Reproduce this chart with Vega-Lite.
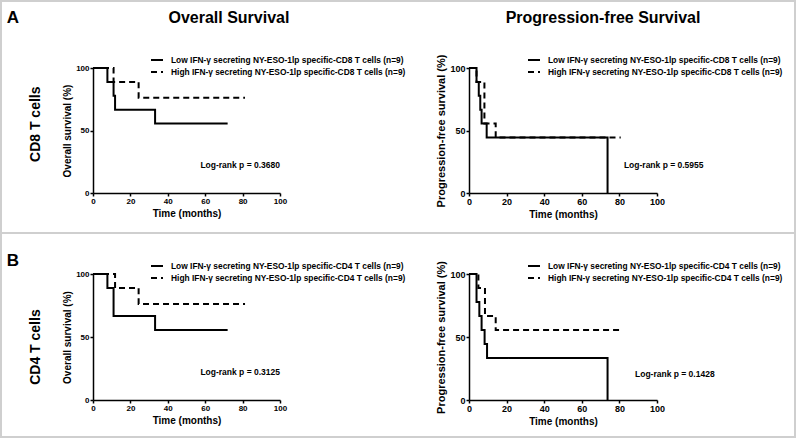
{
  "$schema": "https://vega.github.io/schema/vega-lite/v6.json",
  "padding": 0,
  "background": "white",
  "spacing": 0,
  "bounds": "flush",
  "datasets": {
    "km": [
      {"row": "CD8", "endpoint": "OS", "group": "Low IFN-γ secreting NY-ESO-1lp specific-CD8 T cells (n=9)", "time": 0, "survival": 100},
      {"row": "CD8", "endpoint": "OS", "group": "Low IFN-γ secreting NY-ESO-1lp specific-CD8 T cells (n=9)", "time": 7.7, "survival": 88.9},
      {"row": "CD8", "endpoint": "OS", "group": "Low IFN-γ secreting NY-ESO-1lp specific-CD8 T cells (n=9)", "time": 11, "survival": 77.8},
      {"row": "CD8", "endpoint": "OS", "group": "Low IFN-γ secreting NY-ESO-1lp specific-CD8 T cells (n=9)", "time": 11.8, "survival": 66.7},
      {"row": "CD8", "endpoint": "OS", "group": "Low IFN-γ secreting NY-ESO-1lp specific-CD8 T cells (n=9)", "time": 33.2, "survival": 55.6},
      {"row": "CD8", "endpoint": "OS", "group": "Low IFN-γ secreting NY-ESO-1lp specific-CD8 T cells (n=9)", "time": 72, "survival": 55.6},
      {"row": "CD8", "endpoint": "OS", "group": "High IFN-γ secreting NY-ESO-1lp specific-CD8 T cells (n=9)", "time": 0, "survival": 100},
      {"row": "CD8", "endpoint": "OS", "group": "High IFN-γ secreting NY-ESO-1lp specific-CD8 T cells (n=9)", "time": 11, "survival": 88.9},
      {"row": "CD8", "endpoint": "OS", "group": "High IFN-γ secreting NY-ESO-1lp specific-CD8 T cells (n=9)", "time": 24.4, "survival": 76.2},
      {"row": "CD8", "endpoint": "OS", "group": "High IFN-γ secreting NY-ESO-1lp specific-CD8 T cells (n=9)", "time": 81.3, "survival": 76.2},
      {"row": "CD8", "endpoint": "PFS", "group": "Low IFN-γ secreting NY-ESO-1lp specific-CD8 T cells (n=9)", "time": 0, "survival": 100},
      {"row": "CD8", "endpoint": "PFS", "group": "Low IFN-γ secreting NY-ESO-1lp specific-CD8 T cells (n=9)", "time": 4, "survival": 88.9},
      {"row": "CD8", "endpoint": "PFS", "group": "Low IFN-γ secreting NY-ESO-1lp specific-CD8 T cells (n=9)", "time": 5.2, "survival": 77.8},
      {"row": "CD8", "endpoint": "PFS", "group": "Low IFN-γ secreting NY-ESO-1lp specific-CD8 T cells (n=9)", "time": 6, "survival": 66.7},
      {"row": "CD8", "endpoint": "PFS", "group": "Low IFN-γ secreting NY-ESO-1lp specific-CD8 T cells (n=9)", "time": 6.7, "survival": 55.6},
      {"row": "CD8", "endpoint": "PFS", "group": "Low IFN-γ secreting NY-ESO-1lp specific-CD8 T cells (n=9)", "time": 9.4, "survival": 44.4},
      {"row": "CD8", "endpoint": "PFS", "group": "Low IFN-γ secreting NY-ESO-1lp specific-CD8 T cells (n=9)", "time": 73.7, "survival": 0},
      {"row": "CD8", "endpoint": "PFS", "group": "High IFN-γ secreting NY-ESO-1lp specific-CD8 T cells (n=9)", "time": 0, "survival": 100},
      {"row": "CD8", "endpoint": "PFS", "group": "High IFN-γ secreting NY-ESO-1lp specific-CD8 T cells (n=9)", "time": 4, "survival": 88.9},
      {"row": "CD8", "endpoint": "PFS", "group": "High IFN-γ secreting NY-ESO-1lp specific-CD8 T cells (n=9)", "time": 8.2, "survival": 55.6},
      {"row": "CD8", "endpoint": "PFS", "group": "High IFN-γ secreting NY-ESO-1lp specific-CD8 T cells (n=9)", "time": 14.2, "survival": 44.4},
      {"row": "CD8", "endpoint": "PFS", "group": "High IFN-γ secreting NY-ESO-1lp specific-CD8 T cells (n=9)", "time": 80.7, "survival": 44.4},
      {"row": "CD4", "endpoint": "OS", "group": "Low IFN-γ secreting NY-ESO-1lp specific-CD4 T cells (n=9)", "time": 0, "survival": 100},
      {"row": "CD4", "endpoint": "OS", "group": "Low IFN-γ secreting NY-ESO-1lp specific-CD4 T cells (n=9)", "time": 7.7, "survival": 88.9},
      {"row": "CD4", "endpoint": "OS", "group": "Low IFN-γ secreting NY-ESO-1lp specific-CD4 T cells (n=9)", "time": 11, "survival": 66.7},
      {"row": "CD4", "endpoint": "OS", "group": "Low IFN-γ secreting NY-ESO-1lp specific-CD4 T cells (n=9)", "time": 33.2, "survival": 55.6},
      {"row": "CD4", "endpoint": "OS", "group": "Low IFN-γ secreting NY-ESO-1lp specific-CD4 T cells (n=9)", "time": 72, "survival": 55.6},
      {"row": "CD4", "endpoint": "OS", "group": "High IFN-γ secreting NY-ESO-1lp specific-CD4 T cells (n=9)", "time": 0, "survival": 100},
      {"row": "CD4", "endpoint": "OS", "group": "High IFN-γ secreting NY-ESO-1lp specific-CD4 T cells (n=9)", "time": 11.8, "survival": 88.9},
      {"row": "CD4", "endpoint": "OS", "group": "High IFN-γ secreting NY-ESO-1lp specific-CD4 T cells (n=9)", "time": 24.4, "survival": 76.2},
      {"row": "CD4", "endpoint": "OS", "group": "High IFN-γ secreting NY-ESO-1lp specific-CD4 T cells (n=9)", "time": 81.3, "survival": 76.2},
      {"row": "CD4", "endpoint": "PFS", "group": "Low IFN-γ secreting NY-ESO-1lp specific-CD4 T cells (n=9)", "time": 0, "survival": 100},
      {"row": "CD4", "endpoint": "PFS", "group": "Low IFN-γ secreting NY-ESO-1lp specific-CD4 T cells (n=9)", "time": 4, "survival": 77.8},
      {"row": "CD4", "endpoint": "PFS", "group": "Low IFN-γ secreting NY-ESO-1lp specific-CD4 T cells (n=9)", "time": 5.5, "survival": 66.7},
      {"row": "CD4", "endpoint": "PFS", "group": "Low IFN-γ secreting NY-ESO-1lp specific-CD4 T cells (n=9)", "time": 6.7, "survival": 55.6},
      {"row": "CD4", "endpoint": "PFS", "group": "Low IFN-γ secreting NY-ESO-1lp specific-CD4 T cells (n=9)", "time": 8.3, "survival": 44.4},
      {"row": "CD4", "endpoint": "PFS", "group": "Low IFN-γ secreting NY-ESO-1lp specific-CD4 T cells (n=9)", "time": 9.6, "survival": 33.3},
      {"row": "CD4", "endpoint": "PFS", "group": "Low IFN-γ secreting NY-ESO-1lp specific-CD4 T cells (n=9)", "time": 73.7, "survival": 0},
      {"row": "CD4", "endpoint": "PFS", "group": "High IFN-γ secreting NY-ESO-1lp specific-CD4 T cells (n=9)", "time": 0, "survival": 100},
      {"row": "CD4", "endpoint": "PFS", "group": "High IFN-γ secreting NY-ESO-1lp specific-CD4 T cells (n=9)", "time": 5, "survival": 88.9},
      {"row": "CD4", "endpoint": "PFS", "group": "High IFN-γ secreting NY-ESO-1lp specific-CD4 T cells (n=9)", "time": 8.5, "survival": 66.7},
      {"row": "CD4", "endpoint": "PFS", "group": "High IFN-γ secreting NY-ESO-1lp specific-CD4 T cells (n=9)", "time": 14.2, "survival": 55.6},
      {"row": "CD4", "endpoint": "PFS", "group": "High IFN-γ secreting NY-ESO-1lp specific-CD4 T cells (n=9)", "time": 80.8, "survival": 55.6}
    ]
  },
  "vconcat": [
    {
      "width": 794,
      "height": 232,
      "resolve": {
        "scale": {"x": "independent", "y": "independent", "strokeDash": "independent"},
        "axis": {"x": "independent", "y": "independent"},
        "legend": {"strokeDash": "independent"}
      },
      "layer": [
        {
          "layer": [
            {
              "data": {"name": "km"},
              "transform": [{"filter": "datum.row === 'CD8' && datum.endpoint === 'OS'"}],
              "mark": {"type": "line", "interpolate": "step-after", "stroke": "black", "strokeWidth": 2},
              "encoding": {
                "x": {"field": "time", "type": "quantitative", "scale": {"domain": [0, 100], "range": [92, 279], "nice": false, "zero": false},
                      "axis": {"orient": "bottom", "offset": -40, "values": [0, 20, 40, 60, 80, 100], "title": "Time (months)", "labelFontSize": 8}},
                "y": {"field": "survival", "type": "quantitative", "scale": {"domain": [0, 100], "range": [192, 67], "nice": false},
                      "axis": {"orient": "left", "offset": -92, "values": [0, 50, 100], "title": "Overall survival (%)", "labelFontSize": 8, "titleFontSize": 10}},
                "strokeDash": {"field": "group", "type": "nominal",
                      "scale": {"domain": ["Low IFN-γ secreting NY-ESO-1lp specific-CD8 T cells (n=9)", "High IFN-γ secreting NY-ESO-1lp specific-CD8 T cells (n=9)"], "range": [[1, 0], [6, 4]]},
                      "legend": {"orient": "none", "legendX": 149, "legendY": 52}}
              }
            },
            {
              "data": {"values": [{"label": "Log-rank p = 0.3680"}]},
              "mark": {"type": "text", "align": "right", "baseline": "middle", "fontSize": 8.5, "fontWeight": "bold"},
              "encoding": {"x": {"datum": 100, "type": "quantitative"}, "y": {"datum": 22.4, "type": "quantitative"}, "text": {"field": "label"}}
            },
            {
              "data": {"values": [{"label": "Overall Survival"}]},
              "mark": {"type": "text", "align": "center", "baseline": "middle", "fontSize": 16, "fontWeight": "bold"},
              "encoding": {"x": {"datum": 72.7, "type": "quantitative"}, "y": {"datum": 140.4, "type": "quantitative"}, "text": {"field": "label"}}
            },
            {
              "data": {"values": [{"label": "A"}]},
              "mark": {"type": "text", "align": "center", "baseline": "middle", "fontSize": 17, "fontWeight": "bold"},
              "encoding": {"x": {"datum": -42.8, "type": "quantitative"}, "y": {"datum": 140, "type": "quantitative"}, "text": {"field": "label"}}
            },
            {
              "data": {"values": [{"label": "CD8 T cells"}]},
              "mark": {"type": "text", "align": "center", "baseline": "middle", "angle": 270, "fontSize": 14, "fontWeight": "bold"},
              "encoding": {"x": {"datum": -30.5, "type": "quantitative"}, "y": {"datum": 55, "type": "quantitative"}, "text": {"field": "label"}}
            }
          ]
        },
        {
          "layer": [
            {
              "data": {"name": "km"},
              "transform": [{"filter": "datum.row === 'CD8' && datum.endpoint === 'PFS'"}],
              "mark": {"type": "line", "interpolate": "step-after", "stroke": "black", "strokeWidth": 2},
              "encoding": {
                "x": {"field": "time", "type": "quantitative", "scale": {"domain": [0, 100], "range": [468, 656], "nice": false, "zero": false},
                      "axis": {"orient": "bottom", "offset": -40, "values": [0, 20, 40, 60, 80, 100], "title": "Time (months)", "labelFontSize": 9}},
                "y": {"field": "survival", "type": "quantitative", "scale": {"domain": [0, 100], "range": [192, 67], "nice": false},
                      "axis": {"orient": "left", "offset": -468, "values": [0, 50, 100], "title": "Progression-free survival (%)", "labelFontSize": 9, "titleFontSize": 11}},
                "strokeDash": {"field": "group", "type": "nominal",
                      "scale": {"domain": ["Low IFN-γ secreting NY-ESO-1lp specific-CD8 T cells (n=9)", "High IFN-γ secreting NY-ESO-1lp specific-CD8 T cells (n=9)"], "range": [[1, 0], [6, 4]]},
                      "legend": {"orient": "none", "legendX": 526, "legendY": 52}}
              }
            },
            {
              "data": {"values": [{"label": "Log-rank p = 0.5955"}]},
              "mark": {"type": "text", "align": "left", "baseline": "middle", "fontSize": 8.5, "fontWeight": "bold"},
              "encoding": {"x": {"datum": 82.4, "type": "quantitative"}, "y": {"datum": 22.4, "type": "quantitative"}, "text": {"field": "label"}}
            },
            {
              "data": {"values": [{"label": "Progression-free Survival"}]},
              "mark": {"type": "text", "align": "center", "baseline": "middle", "fontSize": 16, "fontWeight": "bold"},
              "encoding": {"x": {"datum": 71.3, "type": "quantitative"}, "y": {"datum": 140.4, "type": "quantitative"}, "text": {"field": "label"}}
            }
          ]
        }
      ]
    },
    {
      "width": 794,
      "height": 204,
      "resolve": {
        "scale": {"x": "independent", "y": "independent", "strokeDash": "independent"},
        "axis": {"x": "independent", "y": "independent"},
        "legend": {"strokeDash": "independent"}
      },
      "layer": [
        {
          "layer": [
            {
              "data": {"name": "km"},
              "transform": [{"filter": "datum.row === 'CD4' && datum.endpoint === 'OS'"}],
              "mark": {"type": "line", "interpolate": "step-after", "stroke": "black", "strokeWidth": 2},
              "encoding": {
                "x": {"field": "time", "type": "quantitative", "scale": {"domain": [0, 100], "range": [92, 279], "nice": false, "zero": false},
                      "axis": {"orient": "bottom", "offset": -37, "values": [0, 20, 40, 60, 80, 100], "title": "Time (months)", "labelFontSize": 8}},
                "y": {"field": "survival", "type": "quantitative", "scale": {"domain": [0, 100], "range": [167, 41], "nice": false},
                      "axis": {"orient": "left", "offset": -92, "values": [0, 50, 100], "title": "Overall survival (%)", "labelFontSize": 8, "titleFontSize": 10}},
                "strokeDash": {"field": "group", "type": "nominal",
                      "scale": {"domain": ["Low IFN-γ secreting NY-ESO-1lp specific-CD4 T cells (n=9)", "High IFN-γ secreting NY-ESO-1lp specific-CD4 T cells (n=9)"], "range": [[1, 0], [6, 4]]},
                      "legend": {"orient": "none", "legendX": 149, "legendY": 26}}
              }
            },
            {
              "data": {"values": [{"label": "Log-rank p = 0.3125"}]},
              "mark": {"type": "text", "align": "right", "baseline": "middle", "fontSize": 8.5, "fontWeight": "bold"},
              "encoding": {"x": {"datum": 100, "type": "quantitative"}, "y": {"datum": 22.2, "type": "quantitative"}, "text": {"field": "label"}}
            },
            {
              "data": {"values": [{"label": "B"}]},
              "mark": {"type": "text", "align": "center", "baseline": "middle", "fontSize": 17, "fontWeight": "bold"},
              "encoding": {"x": {"datum": -42.8, "type": "quantitative"}, "y": {"datum": 110.3, "type": "quantitative"}, "text": {"field": "label"}}
            },
            {
              "data": {"values": [{"label": "CD4 T cells"}]},
              "mark": {"type": "text", "align": "center", "baseline": "middle", "angle": 270, "fontSize": 14, "fontWeight": "bold"},
              "encoding": {"x": {"datum": -30.5, "type": "quantitative"}, "y": {"datum": 42, "type": "quantitative"}, "text": {"field": "label"}}
            }
          ]
        },
        {
          "layer": [
            {
              "data": {"name": "km"},
              "transform": [{"filter": "datum.row === 'CD4' && datum.endpoint === 'PFS'"}],
              "mark": {"type": "line", "interpolate": "step-after", "stroke": "black", "strokeWidth": 2},
              "encoding": {
                "x": {"field": "time", "type": "quantitative", "scale": {"domain": [0, 100], "range": [468, 656], "nice": false, "zero": false},
                      "axis": {"orient": "bottom", "offset": -37, "values": [0, 20, 40, 60, 80, 100], "title": "Time (months)", "labelFontSize": 9}},
                "y": {"field": "survival", "type": "quantitative", "scale": {"domain": [0, 100], "range": [167, 41], "nice": false},
                      "axis": {"orient": "left", "offset": -468, "values": [0, 50, 100], "title": "Progression-free survival (%)", "labelFontSize": 9, "titleFontSize": 11}},
                "strokeDash": {"field": "group", "type": "nominal",
                      "scale": {"domain": ["Low IFN-γ secreting NY-ESO-1lp specific-CD4 T cells (n=9)", "High IFN-γ secreting NY-ESO-1lp specific-CD4 T cells (n=9)"], "range": [[1, 0], [6, 4]]},
                      "legend": {"orient": "none", "legendX": 526, "legendY": 26}}
              }
            },
            {
              "data": {"values": [{"label": "Log-rank p = 0.1428"}]},
              "mark": {"type": "text", "align": "left", "baseline": "middle", "fontSize": 8.5, "fontWeight": "bold"},
              "encoding": {"x": {"datum": 88.3, "type": "quantitative"}, "y": {"datum": 20.6, "type": "quantitative"}, "text": {"field": "label"}}
            }
          ]
        }
      ]
    }
  ],
  "config": {
    "font": "Liberation Sans",
    "view": {"stroke": "#cfcfcf", "strokeWidth": 2},
    "text": {"font": "Liberation Sans", "color": "black"},
    "axis": {
      "grid": false,
      "domainColor": "black",
      "domainWidth": 1.5,
      "tickColor": "black",
      "tickWidth": 1.5,
      "tickSize": 3,
      "labelFont": "Liberation Sans",
      "labelFontWeight": "bold",
      "labelColor": "black",
      "labelPadding": 1,
      "labelFlush": false,
      "labelOverlap": false,
      "titleFont": "Liberation Sans",
      "titleFontWeight": "bold",
      "titleFontSize": 10,
      "titleColor": "black",
      "titlePadding": 3
    },
    "legend": {
      "title": null,
      "padding": 0,
      "symbolType": "stroke",
      "symbolSize": 144,
      "symbolStrokeWidth": 2,
      "symbolStrokeColor": "black",
      "labelFont": "Liberation Sans",
      "labelFontSize": 8.4,
      "labelFontWeight": "bold",
      "labelColor": "black",
      "labelLimit": 500,
      "labelOffset": 7,
      "rowPadding": 0
    }
  }
}
